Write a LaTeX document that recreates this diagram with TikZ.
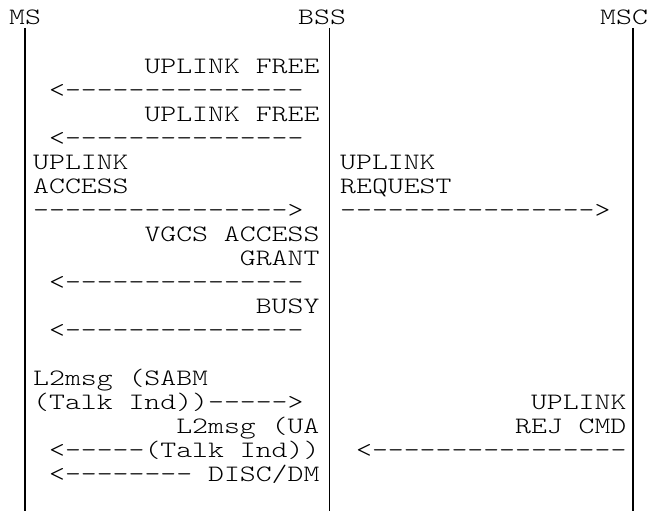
\documentclass[tikz,border=0pt]{standalone}
\usepackage{fontspec}
\setmonofont[FakeStretch=1.289]{Latin Modern Mono Light}
\usepackage{tikz}

\begin{document}
\begin{tikzpicture}[x=15.9pt,y=-24.05pt,
    txt/.style={inner sep=0pt,anchor=base west,font=\ttfamily\fontsize{23.5}{24}\selectfont},
    life/.style={line width=1.2pt}]
  \useasboundingbox (0pt,0pt) rectangle (651pt,-511pt);

  \node[txt] (ms) at (9pt,-25pt) {MS};
  \node[txt] (bss) at (298pt,-25pt) {BSS};
  \node[txt] (msc) at (600pt,-25pt) {MSC};

  \coordinate (mstop) at (25pt,-28pt);
  \coordinate (msbot) at (25pt,-511pt);
  \coordinate (bsstop) at (329.5pt,-28pt);
  \coordinate (bssbot) at (329.5pt,-511pt);
  \coordinate (msctop) at (633pt,-28pt);
  \coordinate (mscbot) at (633pt,-511pt);
  \draw[life] (mstop) -- (msbot);
  \draw[life] (bsstop) -- (bssbot);
  \draw[life] (msctop) -- (mscbot);

  \begin{scope}[shift={(33pt,-25pt)}]
    \node[txt] (free1) at (7,2) {UPLINK FREE};
    \node[txt] (free1a) at (1,3) {<---------------};
    \node[txt] (free2) at (7,4) {UPLINK FREE};
    \node[txt] (free2a) at (1,5) {<---------------};
    \node[txt] (acc1) at (0,6) {UPLINK};
    \node[txt] (acc2) at (0,7) {ACCESS};
    \node[txt] (acca) at (0,8) {---------------->};
    \node[txt] (grant1) at (7,9) {VGCS ACCESS};
    \node[txt] (grant2) at (13,10) {GRANT};
    \node[txt] (granta) at (1,11) {<---------------};
    \node[txt] (busy) at (14,12) {BUSY};
    \node[txt] (busya) at (1,13) {<---------------};
    \node[txt] (sabm1) at (0,15) {L2msg (SABM};
    \node[txt] (sabm2) at (0,16) {(Talk Ind))----->};
    \node[txt] (ua1) at (9,17) {L2msg (UA};
    \node[txt] (ua2) at (1,18) {<-----(Talk Ind))};
    \node[txt] (disc) at (1,19) {<-------- DISC/DM};
  \end{scope}

  \begin{scope}[shift={(340pt,-25pt)}]
    \node[txt] (req1) at (0,6) {UPLINK};
    \node[txt] (req2) at (0,7) {REQUEST};
    \node[txt] (reqa) at (0,8) {---------------->};
    \node[txt] (rej1) at (12,16) {UPLINK};
    \node[txt] (rej2) at (11,17) {REJ CMD};
    \node[txt] (reja) at (1,18) {<----------------};
  \end{scope}
\end{tikzpicture}
\end{document}
